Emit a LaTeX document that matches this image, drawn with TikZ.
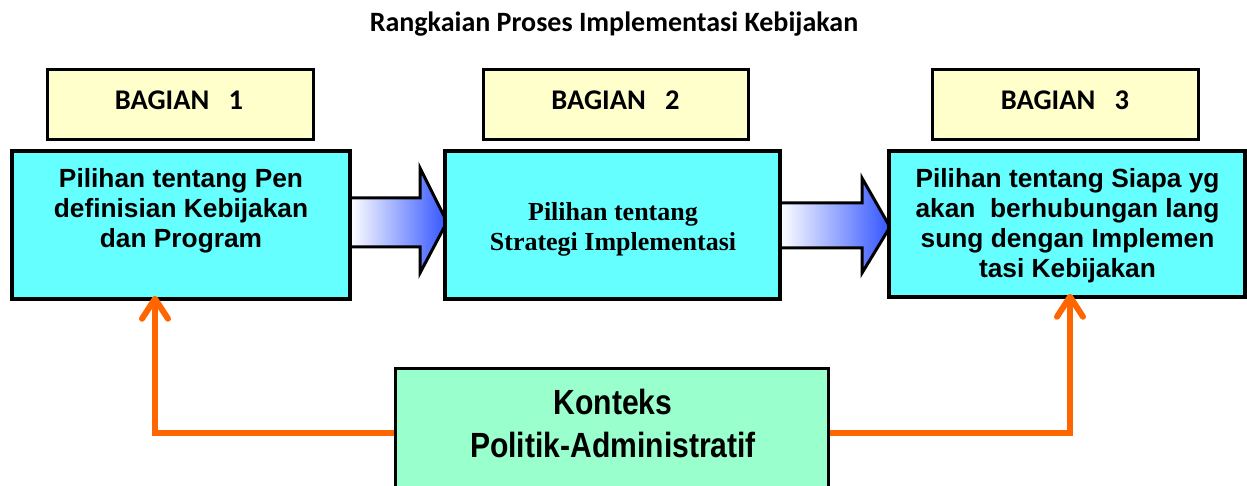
\documentclass[tikz,border=0pt]{standalone}
\usepackage{fontspec}
\usetikzlibrary{arrows.meta,calc}
\newfontfamily\arialf{Liberation Sans}
\newfontfamily\calibf{Carlito}
\newfontfamily\timesf{Liberation Serif}
\newfontfamily\narrowf{Liberation Sans}[FakeStretch=0.86]
\definecolor{cyanbox}{HTML}{66FFFF}
\definecolor{yellowbox}{HTML}{FFFFCC}
\definecolor{greenbox}{HTML}{99FFCC}
\definecolor{orangeline}{HTML}{FF6600}
\definecolor{arrowblue}{HTML}{3355FF}
\tikzset{
  mainbox/.style={draw=black, line width=3.5pt, fill=cyanbox, inner sep=0pt},
  headbox/.style={draw=black, line width=3pt, fill=yellowbox, inner sep=0pt},
  ctxbox/.style={draw=black, line width=3pt, fill=greenbox, inner sep=0pt},
  boxtext/.style={align=center, inner sep=0pt, font=\arialf\bfseries\fontsize{26.3}{30}\selectfont},
  headtext/.style={inner sep=0pt, font=\calibf\bfseries\fontsize{28.5}{30}\selectfont},
  blockarrow/.style={draw=black, line width=3pt, line join=miter, left color=white, right color=arrowblue},
  ctxline/.style={draw=orangeline, line width=6.5pt, line join=miter,
    -{Straight Barb[length=20pt, width=26pt, line width=6pt, round]}},
}
\begin{document}
\begin{tikzpicture}[x=1pt,y=-1pt]
\useasboundingbox (0,0) rectangle (1247,486);
% title
\node[inner sep=0pt, font=\calibf\bfseries\fontsize{28}{30}\selectfont] (title) at (614,24.5) {Rangkaian Proses Implementasi Kebijakan};
% header boxes
\node[headbox, minimum width=266pt, minimum height=70pt] (h1) at (180,105) {};
\node[headbox, minimum width=265pt, minimum height=70pt] (h2) at (615.5,105) {};
\node[headbox, minimum width=266pt, minimum height=70pt] (h3) at (1065,105) {};
\node[headtext] (h1t) at (179,100.5) {BAGIAN\ \ \ 1};
\node[headtext] (h2t) at (615.5,100.5) {BAGIAN\ \ \ 2};
\node[headtext] (h3t) at (1065,100.5) {BAGIAN\ \ \ 3};
% block arrows
\path[blockarrow] (350,198) -- (420,198) -- (420,168) -- (447,222) -- (420,273) -- (420,247) -- (350,247) -- cycle;
\path[blockarrow] (780,203) -- (862,203) -- (862,178) -- (890,227) -- (862,273) -- (862,248) -- (780,248) -- cycle;
% main boxes
\node[mainbox, minimum width=338pt, minimum height=148pt] (b1) at (181,225) {};
\node[mainbox, minimum width=335pt, minimum height=148pt] (b2) at (612.5,225) {};
\node[mainbox, minimum width=356pt, minimum height=146pt] (b3) at (1067,224) {};
\node[boxtext] (b1t) at (181,211) {Pilihan tentang Pen\\definisian Kebijakan\\dan Program};
\node[boxtext, font=\timesf\bfseries\fontsize{26}{30}\selectfont] (b2t) at (613,229) {Pilihan tentang\\Strategi Implementasi};
\node[boxtext] (b3t) at (1067.5,226) {Pilihan tentang Siapa yg\\akan\ \ berhubungan lang\\sung dengan Implemen\\tasi Kebijakan};
% context box
\node[ctxbox, minimum width=433pt, minimum height=130pt] (g) at (611.5,433) {};
\node[align=center, inner sep=0pt, font=\narrowf\bfseries\fontsize{35}{43}\selectfont] (gt) at (613,423.5) {Konteks\\Politik-Administratif};
% context connectors
\draw[ctxline] (g.west) -| ([xshift=-26pt, yshift=5pt]b1.south);
\draw[ctxline] (g.east) -| ([xshift=3pt, yshift=5pt]b3.south);
\end{tikzpicture}
\end{document}
